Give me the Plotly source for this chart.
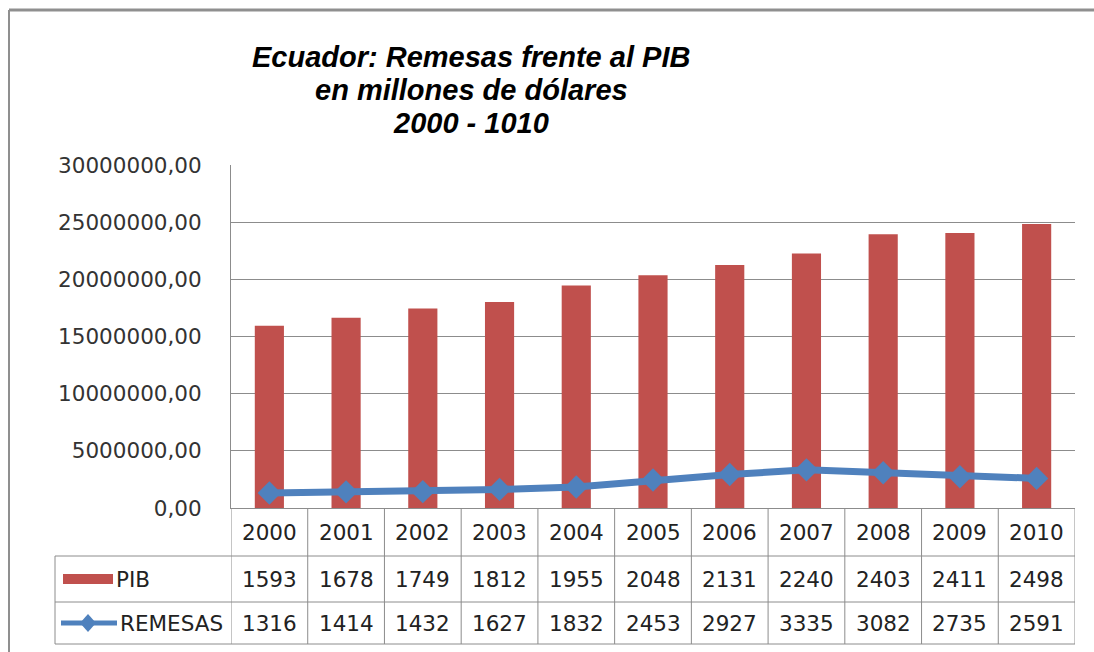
import plotly.graph_objects as go

# data
years = ["2000", "2001", "2002", "2003", "2004", "2005", "2006", "2007", "2008", "2009", "2010"]
pib_table = [1593, 1678, 1749, 1812, 1955, 2048, 2131, 2240, 2403, 2411, 2498]
remesas_table = [1316, 1414, 1432, 1627, 1832, 2453, 2927, 3335, 3082, 2735, 2591]
# values as plotted on the axis
pib_plot = [15930000, 16650000, 17440000, 18020000, 19450000, 20350000,
            21250000, 22250000, 23950000, 24050000, 24850000]
remesas_plot = [1316000, 1414000, 1432000, 1627000, 1832000, 2453000,
                2927000, 3335000, 3082000, 2735000, 2591000]
y_ticks = [0, 5000000, 10000000, 15000000, 20000000, 25000000, 30000000]
title_lines = ["Ecuador: Remesas frente al PIB", "en millones de dólares", "2000 - 1010"]

W, H = 1094, 652
L, R, T, B = 231, 1075, 165, 508  # plot area in pixels
RED = "#C0504D"
BLUE = "#4F81BD"
GRID = "#8C8C8C"
FONT = "DejaVu Sans"


def px(x):
    return (x - L) / (R - L)


def py(y):
    return (B - y) / (B - T)


fig = go.Figure()

fig.add_trace(go.Bar(
    x=years, y=pib_plot, name="PIB",
    marker=dict(color=RED, line=dict(width=0)),
))
fig.add_trace(go.Scatter(
    x=years, y=remesas_plot, name="REMESAS",
    mode="lines+markers",
    line=dict(color=BLUE, width=7),
    marker=dict(symbol="diamond", size=18, color=BLUE),
))

shapes = []
line = dict(color=GRID, width=1)

# table grid
row_top, row1, row2, row_bot = 508, 556, 602, 644
for i in range(len(years) + 1):
    shapes.append(dict(type="line", xref="x", yref="paper",
                       x0=i - 0.5, x1=i - 0.5, y0=py(row_top), y1=py(row_bot), line=line))
for yy in [row1, row2, row_bot]:
    shapes.append(dict(type="line", xref="paper", yref="paper",
                       x0=px(55), x1=px(R), y0=py(yy), y1=py(yy), line=line))
shapes.append(dict(type="line", xref="paper", yref="paper",
                   x0=px(55), x1=px(55), y0=py(row1), y1=py(row_bot), line=line))

# legend keys in the table
shapes.append(dict(type="rect", xref="paper", yref="paper",
                   x0=px(63), x1=px(113), y0=py(574), y1=py(584),
                   fillcolor=RED, line=dict(width=0)))
shapes.append(dict(type="line", xref="paper", yref="paper",
                   x0=px(61), x1=px(117), y0=py(623), y1=py(623),
                   line=dict(color=BLUE, width=5)))
cx, cy = px(88), py(623)
dx, dy = 8 / (R - L), 9 / (B - T)
shapes.append(dict(type="path", xref="paper", yref="paper",
                   path=f"M {cx - dx} {cy} L {cx} {cy + dy} L {cx + dx} {cy} L {cx} {cy - dy} Z",
                   fillcolor=BLUE, line=dict(width=0)))

# outer chart border
shapes.append(dict(type="line", xref="paper", yref="paper",
                   x0=px(9), x1=px(W + 5), y0=py(10), y1=py(10),
                   line=dict(color="#8F8F8F", width=3)))
shapes.append(dict(type="line", xref="paper", yref="paper",
                   x0=px(9), x1=px(9), y0=py(10), y1=py(H + 5),
                   line=dict(color="#8F8F8F", width=2)))

annotations = []
tfont = dict(family=FONT, size=21.5, color="#222222")
for i, yr in enumerate(years):
    for txt, yy in [(yr, (row_top + row1) / 2),
                    (str(pib_table[i]), (row1 + row2) / 2),
                    (str(remesas_table[i]), (row2 + row_bot) / 2)]:
        annotations.append(dict(x=i, y=py(yy), xref="x", yref="paper",
                                xanchor="center", yanchor="middle",
                                text=txt, showarrow=False, font=tfont))
annotations.append(dict(x=px(114), y=py((row1 + row2) / 2), xref="paper", yref="paper",
                        xanchor="left", yanchor="middle", text="PIB", showarrow=False, font=tfont))
annotations.append(dict(x=px(118), y=py((row2 + row_bot) / 2), xref="paper", yref="paper",
                        xanchor="left", yanchor="middle", text="REMESAS", showarrow=False, font=tfont))

# title, one annotation per line
for txt, yy in zip(title_lines, [57, 90, 123]):
    annotations.append(dict(
        x=px(471), y=py(yy), xref="paper", yref="paper", xanchor="center", yanchor="middle",
        text=f"<b><i>{txt}</i></b>", showarrow=False,
        font=dict(family="Liberation Sans", size=29, color="black"),
    ))

fig.update_layout(
    width=W, height=H,
    margin=dict(l=L, r=W - R, t=T, b=H - B),
    paper_bgcolor="white", plot_bgcolor="white",
    showlegend=False,
    separators=",.",
    bargap=0.62,
    xaxis=dict(type="category", range=[-0.5, len(years) - 0.5],
               showticklabels=False, showgrid=False, zeroline=False,
               showline=True, linecolor=GRID, linewidth=1),
    yaxis=dict(range=[0, 30000000], tickvals=y_ticks, tickformat=".2f",
               showgrid=True, gridcolor=GRID, gridwidth=1, zeroline=False,
               showline=True, linecolor=GRID, linewidth=1, ticks="",
               ticklabelstandoff=24,
               tickfont=dict(family=FONT, size=21.5, color="#333333")),
    shapes=shapes,
    annotations=annotations,
)

fig.write_html("out.html", config={"displayModeBar": False},
               post_script="document.body.style.margin='0';")
